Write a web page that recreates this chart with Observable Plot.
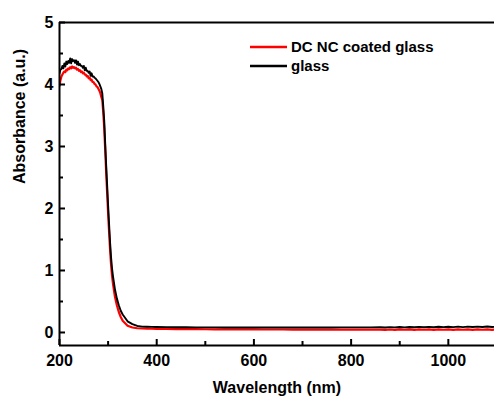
<!DOCTYPE html>
<html>
<head>
<meta charset="utf-8">
<script src="https://cdn.jsdelivr.net/npm/d3@7"></script>
<script src="https://cdn.jsdelivr.net/npm/@observablehq/plot@0.6"></script>
<style>
  html, body { margin: 0; padding: 0; background: #fff; }
  #chart { width: 494px; height: 399px; }
</style>
</head>
<body>
<div id="chart"></div>
<script>
// UV-Vis absorbance spectra: wavelength (nm) and absorbance (a.u.)
const wavelength = [
  200, 202, 204, 206, 208, 210, 212, 214, 216, 218,
  220, 222, 224, 226, 228, 230, 232, 234, 236, 238,
  240, 242, 244, 246, 248, 250, 252, 254, 256, 258,
  260, 262, 264, 266, 268, 270, 272, 274, 276, 278,
  280, 282, 284, 286, 288, 290, 292, 294, 296, 298,
  300, 302, 304, 306, 308, 310, 314, 318, 322, 326,
  330, 340, 350, 360, 370, 380, 390, 400, 420, 440,
  460, 480, 500, 520, 540, 560, 580, 600, 620, 640,
  660, 680, 700, 720, 740, 760, 780, 800, 820, 840,
  860, 870, 880, 890, 900, 910, 920, 930, 940, 950,
  960, 970, 980, 990, 1000, 1010, 1020, 1030, 1040, 1050,
  1060, 1070, 1080, 1090, 1100
];

const glass = [
  4.18, 4.24, 4.25, 4.30, 4.26, 4.34, 4.29, 4.37, 4.33, 4.38,
  4.35, 4.42, 4.34, 4.41, 4.38, 4.39, 4.35, 4.39, 4.32, 4.37,
  4.31, 4.33, 4.30, 4.30, 4.27, 4.30, 4.23, 4.27, 4.22, 4.22,
  4.19, 4.21, 4.14, 4.18, 4.13, 4.13, 4.11, 4.10, 4.08, 4.06,
  4.04, 4.01, 3.97, 3.93, 3.86, 3.65, 3.42, 3.05, 2.70, 2.38,
  2.05, 1.75, 1.46, 1.22, 1.04, 0.91, 0.70, 0.55, 0.44, 0.35,
  0.29, 0.18, 0.135, 0.105, 0.095, 0.092, 0.090, 0.088, 0.086, 0.085,
  0.084, 0.083, 0.082, 0.082, 0.081, 0.081, 0.080, 0.080, 0.080, 0.080,
  0.080, 0.080, 0.080, 0.081, 0.081, 0.081, 0.082, 0.082, 0.083, 0.083,
  0.084, 0.081, 0.087, 0.082, 0.088, 0.083, 0.089, 0.084, 0.090, 0.085,
  0.091, 0.085, 0.092, 0.086, 0.093, 0.087, 0.094, 0.087, 0.094, 0.088,
  0.095, 0.088, 0.096, 0.089, 0.092
];

const coatedGlass = [
  3.98, 4.07, 4.13, 4.16, 4.19, 4.21, 4.20, 4.24, 4.23, 4.26,
  4.25, 4.28, 4.26, 4.29, 4.27, 4.28, 4.26, 4.27, 4.24, 4.25,
  4.22, 4.23, 4.20, 4.21, 4.18, 4.19, 4.16, 4.16, 4.13, 4.14,
  4.10, 4.11, 4.07, 4.08, 4.04, 4.04, 4.01, 4.00, 3.97, 3.96,
  3.93, 3.90, 3.86, 3.80, 3.75, 3.55, 3.30, 2.95, 2.58, 2.25,
  1.92, 1.62, 1.34, 1.10, 0.92, 0.79, 0.58, 0.44, 0.33, 0.25,
  0.19, 0.11, 0.080, 0.068, 0.064, 0.062, 0.060, 0.058, 0.056, 0.055,
  0.054, 0.053, 0.052, 0.051, 0.050, 0.050, 0.049, 0.049, 0.048, 0.048,
  0.048, 0.047, 0.047, 0.047, 0.046, 0.046, 0.046, 0.046, 0.046, 0.046,
  0.046, 0.043, 0.048, 0.043, 0.049, 0.044, 0.049, 0.043, 0.050, 0.044,
  0.050, 0.043, 0.051, 0.044, 0.050, 0.043, 0.051, 0.044, 0.050, 0.043,
  0.051, 0.044, 0.050, 0.043, 0.047
];

const seriesNames = ["DC NC coated glass", "glass"];
const seriesColors = ["#ff0000", "#000000"];

const xMajorTicks = [200, 400, 600, 800, 1000];
const xMinorTicks = [300, 500, 700, 900];
const yMajorTicks = [0, 1, 2, 3, 4, 5];
const yMinorTicks = [0.5, 1.5, 2.5, 3.5, 4.5];

const xDomain = [200, 1095];
const yDomain = [-0.21, 5];

const coatedData = wavelength.map((w, i) => ({w, a: coatedGlass[i]}));
const glassData = wavelength.map((w, i) => ({w, a: glass[i]}));

const noText = () => "";
const plain = (d) => String(d);

// Legend drawn inside the plot area, top right
function legend() {
  const g = d3.create("svg:g")
    .attr("font-size", 15)
    .attr("font-weight", "bold")
    .attr("text-anchor", "start");
  seriesNames.forEach((name, i) => {
    const y = 47 + i * 19;
    g.append("line")
      .attr("x1", 250).attr("x2", 287)
      .attr("y1", y).attr("y2", y)
      .attr("stroke", seriesColors[i])
      .attr("stroke-width", 2.5);
    g.append("text")
      .attr("x", 291).attr("y", y)
      .attr("dy", "0.36em")
      .attr("fill", "#000")
      .text(name);
  });
  return g.node();
}

const chart = Plot.plot({
  width: 494,
  height: 399,
  marginLeft: 59,
  marginRight: 0,
  marginTop: 22,
  marginBottom: 54,
  style: {
    fontFamily: "'Liberation Sans', Arial, sans-serif",
    fontSize: "16px",
    fontWeight: "bold",
    background: "#fff",
    color: "#000"
  },
  x: {domain: xDomain},
  y: {domain: yDomain},
  marks: [
    Plot.line(coatedData, {x: "w", y: "a", stroke: seriesColors[0], strokeWidth: 2.2, clip: true}),
    Plot.line(glassData, {x: "w", y: "a", stroke: seriesColors[1], strokeWidth: 1.9, clip: true}),
    // frame lines
    Plot.ruleY([yDomain[1]], {stroke: "#000", strokeWidth: 2}),
    Plot.ruleY([yDomain[0]], {stroke: "#000", strokeWidth: 2}),
    Plot.ruleX([xDomain[0]], {stroke: "#000", strokeWidth: 2}),
    // inward tick marks (shifted into the frame)
    Plot.axisX(xMajorTicks, {anchor: "bottom", tickSize: 6, dy: -6, strokeWidth: 2, tickFormat: noText, label: null}),
    Plot.axisX(xMinorTicks, {anchor: "bottom", tickSize: 4, dy: -4, strokeWidth: 2, tickFormat: noText, label: null}),
    Plot.axisY(yMajorTicks, {anchor: "left", tickSize: 6, dx: 6, strokeWidth: 2, tickFormat: noText, label: null}),
    Plot.axisY(yMinorTicks, {anchor: "left", tickSize: 4, dx: 4, strokeWidth: 2, tickFormat: noText, label: null}),
    // tick labels
    Plot.axisX(xMajorTicks, {anchor: "bottom", tickSize: 0, tickPadding: 9, tickFormat: plain, label: null, fontSize: 16}),
    Plot.axisY(yMajorTicks, {anchor: "left", tickSize: 0, tickPadding: 6, tickFormat: plain, label: null, fontSize: 16}),
    // axis titles
    Plot.text(["Wavelength (nm)"], {frameAnchor: "bottom", dy: 47, lineAnchor: "bottom", fontSize: 16, fontWeight: "bold", fill: "#000"}),
    Plot.text(["Absorbance (a.u.)"], {frameAnchor: "left", rotate: -90, dx: -40, fontSize: 16, fontWeight: "bold", fill: "#000"}),
    legend
  ]
});

document.getElementById("chart").appendChild(chart);
</script>
</body>
</html>
